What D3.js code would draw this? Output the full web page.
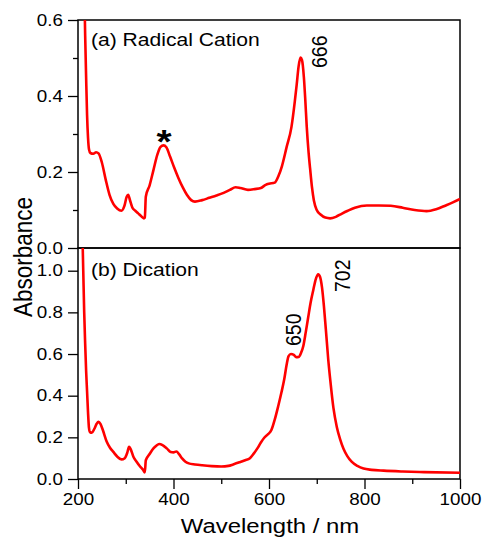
<!DOCTYPE html>
<html><head><meta charset="utf-8">
<script src="https://cdn.jsdelivr.net/npm/d3@7"></script>
<style>
html,body{margin:0;padding:0;background:#fff;}
svg text{font-family:"Liberation Sans",Arial,sans-serif;fill:#000;}
</style></head>
<body><svg id="c" width="482" height="538"></svg>
<script>
// ---- data ----
const wlA = [213,215,217,219,221,223,226,232,238,243,250,258,266,274,282,291,297,302,305,309,314,320,326,332,338,340,342,350,358,366,373,379,385,393,401,410,420,428,437,445,460,475,490,505,518,530,540,556,570,583,593,600,612,620,627,637,647,654,658,662,666,669,673,676,679,683,686,690,694,700,708,718,728,740,752,765,780,805,830,855,880,905,930,950,970,985,1000];
const absA = [0.70,0.56,0.45,0.35,0.29,0.26,0.25,0.248,0.252,0.249,0.225,0.18,0.14,0.116,0.104,0.098,0.11,0.135,0.14,0.125,0.106,0.098,0.091,0.084,0.078,0.08,0.135,0.165,0.205,0.245,0.266,0.27,0.265,0.24,0.213,0.185,0.158,0.14,0.126,0.122,0.126,0.132,0.138,0.145,0.153,0.16,0.158,0.153,0.155,0.158,0.166,0.169,0.172,0.19,0.215,0.266,0.318,0.385,0.43,0.478,0.501,0.495,0.45,0.39,0.32,0.25,0.21,0.16,0.125,0.1,0.088,0.08,0.078,0.082,0.09,0.098,0.106,0.112,0.112,0.111,0.106,0.1,0.097,0.102,0.112,0.12,0.129];
const wlB = [209,211,213,215,217,219,221,223,225,229,234,239,243,247,252,260,267,274,282,291,298,303,307,310,316,322,330,336,340,342,350,358,364,370,377,386,394,400,406,412,418,425,432,445,460,480,500,515,525,538,550,560,568,576,583,590,598,605,612,619,626,632,637,641,646,652,657,662,667,672,677,682,687,693,698,703,707,711,715,719,724,729,735,742,749,756,764,773,785,798,815,840,880,925,1000];
const absB = [1.2,1.0,0.80,0.65,0.52,0.42,0.32,0.245,0.225,0.222,0.24,0.265,0.275,0.265,0.235,0.18,0.15,0.13,0.108,0.094,0.1,0.125,0.155,0.145,0.107,0.085,0.06,0.045,0.032,0.09,0.12,0.147,0.16,0.168,0.163,0.147,0.13,0.128,0.132,0.118,0.099,0.083,0.075,0.07,0.066,0.062,0.06,0.063,0.07,0.08,0.09,0.1,0.122,0.148,0.175,0.198,0.215,0.235,0.285,0.347,0.415,0.48,0.55,0.59,0.6,0.596,0.585,0.586,0.605,0.64,0.705,0.775,0.845,0.91,0.96,0.983,0.97,0.92,0.83,0.72,0.575,0.46,0.34,0.25,0.19,0.145,0.11,0.083,0.063,0.05,0.044,0.04,0.036,0.033,0.03];
const xTicksMajor = [200,400,600,800,1000];
const xTicksMinor = [300,500,700,900];
const yTicksA = [0,0.2,0.4,0.6];
const yTicksAMinor = [0.1,0.3,0.5];
const yTicksB = [0,0.2,0.4,0.6,0.8,1.0];
const labelA = "(a) Radical Cation";
const labelB = "(b) Dication";
const peakLabels = [{panel:"A", text:"666", wl:666}, {panel:"B", text:"650", wl:650}, {panel:"B", text:"702", wl:702}];

// ---- layout ----
const SX = 1.14; // horizontal glyph stretch seen in the reference
const svg = d3.select("#c");
const L=78, R=460, T=20, MID=248, B=479;
const x = d3.scaleLinear().domain([200,1000]).range([L,R]);
const yA = d3.scaleLinear().domain([0,0.6]).range([MID,T]);
const yB = d3.scaleLinear().domain([0,1.109]).range([B,MID]);

svg.append("defs").call(d=>{
  d.append("clipPath").attr("id","ca").append("rect").attr("x",L).attr("y",T).attr("width",R-L).attr("height",MID-T);
  d.append("clipPath").attr("id","cb").append("rect").attr("x",L).attr("y",MID).attr("width",R-L).attr("height",B-MID);
});

const fmt = d3.format(".1f");
function styleAxis(g){
  g.selectAll("path").remove();
  g.selectAll("line").attr("stroke","#000").attr("stroke-width",1.3);
  g.selectAll("text").attr("font-size",16.5).style("font-family","Liberation Sans, Arial, sans-serif")
    .each(function(){
      const t = d3.select(this);
      const xv = +t.attr("x") || 0;
      t.attr("x", xv/SX).attr("transform", function(){
        const cur = d3.select(this).attr("transform") || "";
        return cur + ` scale(${SX},1)`;
      });
    });
}
// top panel y axis
svg.append("g").attr("transform",`translate(${L},0)`)
  .call(d3.axisLeft(yA).tickValues(yTicksA).tickFormat(fmt).tickSize(10).tickPadding(5)).call(styleAxis);
svg.append("g").attr("transform",`translate(${L},0)`)
  .call(d3.axisLeft(yA).tickValues(yTicksAMinor).tickFormat("").tickSize(5)).call(styleAxis);
// bottom panel y axis
svg.append("g").attr("transform",`translate(${L},0)`)
  .call(d3.axisLeft(yB).tickValues(yTicksB).tickFormat(fmt).tickSize(10).tickPadding(5)).call(styleAxis);
// x axis
svg.append("g").attr("transform",`translate(0,${B})`)
  .call(d3.axisBottom(x).tickValues(xTicksMajor).tickFormat(d3.format("d")).tickSize(10).tickPadding(4)).call(styleAxis);
svg.append("g").attr("transform",`translate(0,${B})`)
  .call(d3.axisBottom(x).tickValues(xTicksMinor).tickFormat("").tickSize(5)).call(styleAxis);

// frames
[[T,MID],[MID,B]].forEach(([a,b])=>{
  svg.append("rect").attr("x",L).attr("y",a).attr("width",R-L).attr("height",b-a)
    .attr("fill","none").attr("stroke","#000").attr("stroke-width",1.5);
});

// curves
const dataA = wlA.map((w,i)=>[w,absA[i]]);
const dataB = wlB.map((w,i)=>[w,absB[i]]);
svg.append("path").datum(dataA).attr("clip-path","url(#ca)")
  .attr("d",d3.line().x(d=>x(d[0])).y(d=>yA(d[1])).curve(d3.curveMonotoneX))
  .attr("fill","none").attr("stroke","#ff0000").attr("stroke-width",2.6);
svg.append("path").datum(dataB).attr("clip-path","url(#cb)")
  .attr("d",d3.line().x(d=>x(d[0])).y(d=>yB(d[1])).curve(d3.curveMonotoneX))
  .attr("fill","none").attr("stroke","#ff0000").attr("stroke-width",2.6);

function hText(px,py,size,str,anchor){
  return svg.append("text").attr("font-size",size).attr("text-anchor",anchor||"start")
    .attr("transform",`translate(${px},${py}) scale(${SX},1)`).text(str);
}
function vText(px,py,size,str,anchor){
  return svg.append("text").attr("font-size",size).attr("text-anchor",anchor||"start")
    .attr("transform",`translate(${px},${py}) rotate(-90) scale(1,${SX})`).text(str);
}

// panel labels
hText(91,46,18.5,labelA);
hText(91,276,18.5,labelB);

// peak labels (rotated)
const peakPos = {"666":[327,68],"650":[301,346],"702":[350,292]};
peakLabels.forEach(p=>{
  const pos = peakPos[p.text];
  vText(pos[0],pos[1],19.5,p.text);
});
// asterisk
hText(164,153,34,"*","middle").attr("font-weight","bold");

// axis titles
vText(32,257,22.5,"Absorbance","middle");
hText(270,533,21,"Wavelength / nm","middle");
</script></body></html>
